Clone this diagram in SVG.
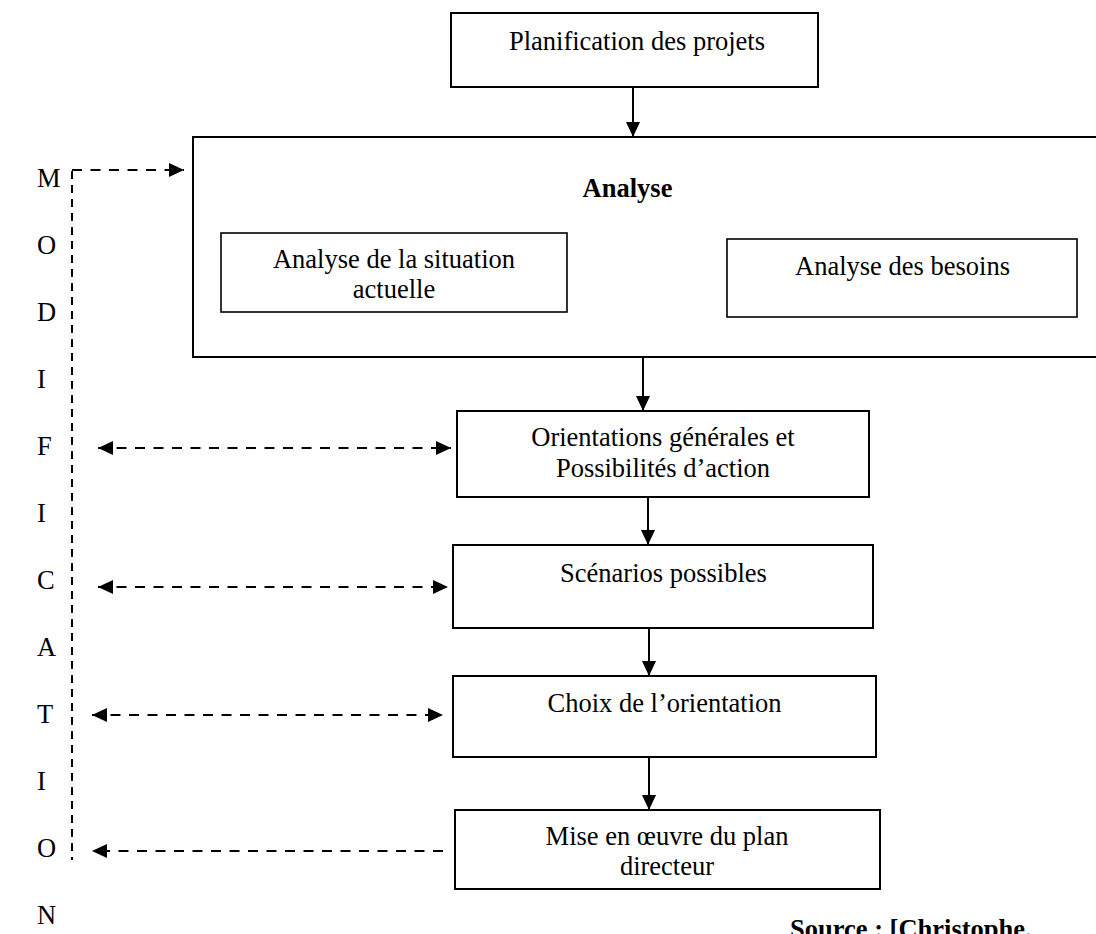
<svg xmlns="http://www.w3.org/2000/svg" width="1096" height="934" viewBox="0 0 1096 934">
<style>
  text { font-family: "Liberation Serif", "Times New Roman", serif; font-size: 26.5px; fill: #000; }
  .c { text-anchor: middle; }
  .b { font-weight: bold; }
  .box { fill: #fff; stroke: #000; stroke-width: 2; }
  .sub { fill: #fff; stroke: #000; stroke-width: 1.6; }
  .solid { stroke: #000; stroke-width: 2; fill: none; }
  .dh { stroke: #000; stroke-width: 2; fill: none; stroke-dasharray: 10 8.5; }
  .dv { stroke: #000; stroke-width: 2; fill: none; stroke-dasharray: 8 6; }
</style>
<defs>
  <marker id="ah" markerUnits="userSpaceOnUse" markerWidth="16" markerHeight="14" refX="15" refY="7" orient="auto-start-reverse">
    <path d="M0,0 L15,7 L0,14 z" fill="#000"/>
  </marker>
</defs>
<rect width="1096" height="934" fill="#fff"/>

<g id="planification">
  <rect class="box" x="451" y="13" width="367" height="74"/>
  <text class="c" x="637" y="50">Planification des projets</text>
</g>

<g id="analyse">
  <path class="box" d="M1100,137 H193 V357 H1100"/>
  <text class="c b" x="627.5" y="197">Analyse</text>
</g>

<g id="situation">
  <rect class="sub" x="221" y="233" width="346" height="79"/>
  <text class="c" x="394" y="268">Analyse de la situation</text>
  <text class="c" x="394" y="298">actuelle</text>
</g>

<g id="besoins">
  <rect class="sub" x="727" y="239" width="350" height="78"/>
  <text class="c" x="902.5" y="275">Analyse des besoins</text>
</g>

<g id="orientations">
  <rect class="box" x="457" y="411" width="412" height="86"/>
  <text class="c" x="663" y="446">Orientations générales et</text>
  <text class="c" x="663" y="477">Possibilités d’action</text>
</g>

<g id="scenarios">
  <rect class="box" x="453" y="545" width="420" height="83"/>
  <text class="c" x="663.5" y="582">Scénarios possibles</text>
</g>

<g id="choix">
  <rect class="box" x="453" y="676" width="423" height="81"/>
  <text class="c" x="664.5" y="712">Choix de l’orientation</text>
</g>

<g id="mise">
  <rect class="box" x="455" y="810" width="425" height="79"/>
  <text class="c" x="667" y="845">Mise en œuvre du plan</text>
  <text class="c" x="667" y="875">directeur</text>
</g>

<g id="modification">
  <text x="37" y="187">M</text>
  <text x="37" y="254">O</text>
  <text x="37" y="321">D</text>
  <text x="37" y="388">I</text>
  <text x="37" y="455">F</text>
  <text x="37" y="522">I</text>
  <text x="37" y="589">C</text>
  <text x="37" y="656">A</text>
  <text x="37" y="723">T</text>
  <text x="37" y="790">I</text>
  <text x="37" y="857">O</text>
  <text x="37" y="924">N</text>
</g>

<g id="source">
  <text class="b" x="790" y="938">Source : [Christophe. </text>
</g>

<g id="connectors">
  <line class="solid" x1="633" y1="87" x2="633" y2="137" marker-end="url(#ah)"/>
  <line class="solid" x1="643" y1="357" x2="643" y2="411" marker-end="url(#ah)"/>
  <line class="solid" x1="648" y1="497" x2="648" y2="545" marker-end="url(#ah)"/>
  <line class="solid" x1="649" y1="628" x2="649" y2="676" marker-end="url(#ah)"/>
  <line class="solid" x1="649" y1="757" x2="649" y2="810" marker-end="url(#ah)"/>

  <line class="dv" x1="72" y1="171" x2="72" y2="860"/>
  <line class="dh" x1="72" y1="170" x2="184" y2="170" marker-end="url(#ah)"/>

  <line class="dh" x1="98" y1="448" x2="451" y2="448" marker-start="url(#ah)" marker-end="url(#ah)"/>
  <line class="dh" x1="98" y1="587" x2="448" y2="587" marker-start="url(#ah)" marker-end="url(#ah)"/>
  <line class="dh" x1="92" y1="715" x2="443" y2="715" marker-start="url(#ah)" marker-end="url(#ah)"/>
  <line class="dh" x1="443" y1="851" x2="92" y2="851" marker-end="url(#ah)"/>
</g>
</svg>
